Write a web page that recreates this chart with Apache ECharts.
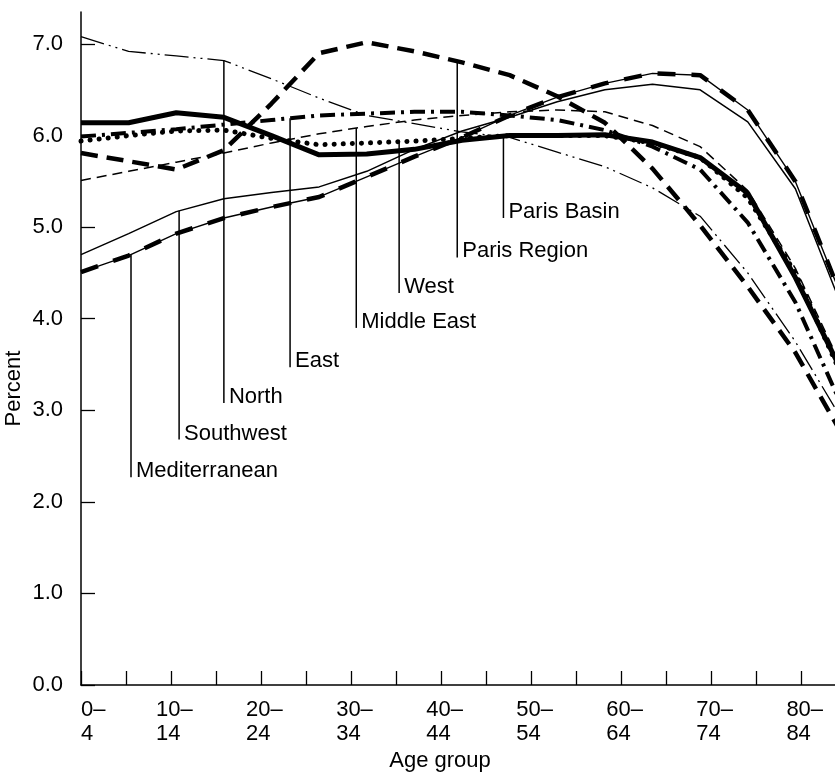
<!DOCTYPE html>
<html>
<head>
<meta charset="utf-8">
<script src="https://cdn.jsdelivr.net/npm/echarts@6/dist/echarts.min.js"></script>
<style>
  html, body { margin: 0; padding: 0; background: #fff; }
  #chart { width: 835px; height: 773px; }
</style>
</head>
<body>
<div id="chart"></div>
<script>
// age groups on the x axis (data is plotted by group index)
const ageGroups = [
  "0–4", "5–9", "10–14", "15–19", "20–24", "25–29", "30–34", "35–39", "40–44",
  "45–49", "50–54", "55–59", "60–64", "65–69", "70–74", "75–79", "80–84"
];
const percentTicks = [0, 1, 2, 3, 4, 5, 6, 7];

// percent of population in each age group, by region
const parisBasin    = [6.14, 6.14, 6.25, 6.20, 6.00, 5.79, 5.80, 5.85, 5.95, 6.00, 6.00, 6.01, 5.93, 5.76, 5.37, 4.45, 3.40];
const parisRegion   = [5.81, 5.72, 5.63, 5.84, 6.35, 6.90, 7.02, 6.92, 6.80, 6.66, 6.43, 6.14, 5.64, 5.02, 4.35, 3.63, 2.72];
const west          = [5.94, 6.00, 6.05, 6.06, 5.97, 5.90, 5.92, 5.94, 5.97, 6.00, 6.00, 6.00, 5.92, 5.76, 5.32, 4.50, 3.35];
const middleEast    = [5.51, 5.61, 5.71, 5.81, 5.92, 6.02, 6.10, 6.17, 6.22, 6.26, 6.28, 6.26, 6.11, 5.88, 5.40, 4.55, 3.45];
const east          = [5.99, 6.03, 6.07, 6.12, 6.17, 6.22, 6.24, 6.26, 6.26, 6.22, 6.17, 6.06, 5.88, 5.63, 5.05, 4.18, 3.02];
const north         = [7.08, 6.92, 6.87, 6.82, 6.62, 6.41, 6.22, 6.13, 6.04, 5.98, 5.82, 5.66, 5.43, 5.12, 4.50, 3.75, 2.88];
const southwest     = [4.70, 4.93, 5.17, 5.31, 5.38, 5.44, 5.61, 5.85, 6.05, 6.20, 6.37, 6.50, 6.56, 6.50, 6.15, 5.42, 4.10];
const mediterranean = [4.51, 4.69, 4.93, 5.10, 5.22, 5.33, 5.55, 5.77, 5.98, 6.22, 6.42, 6.57, 6.68, 6.66, 6.28, 5.50, 4.20];

const FONT = '"Liberation Sans", Arial, sans-serif';
const DATA_STEP = 47.6; // px between plotted age groups
const TICK_STEP = 45;   // px between axis ticks (the printed axis is a bit narrower)

const toPoints = arr => arr.map((v, i) => [i, v]);

function lineSeries(name, data, width, type, cap) {
  return {
    name: name,
    type: "line",
    xAxisIndex: 0,
    data: toPoints(data),
    symbol: "none",
    silent: true,
    animation: false,
    lineStyle: { color: "#000", width: width, type: type, cap: cap || "butt" }
  };
}

const series = [
  lineSeries("Paris Basin", parisBasin, 5, "solid"),
  lineSeries("Paris Region", parisRegion, 4.5, [17, 9]),
  lineSeries("West", west, 5, [0.1, 9], "round"),
  lineSeries("Middle East", middleEast, 1.5, [10, 6]),
  lineSeries("East", east, 4, [15, 6, 3, 6]),
  lineSeries("North", north, 1.3, [24, 5, 2, 5, 2, 5]),
  lineSeries("Southwest", southwest, 1.5, "solid"),
  lineSeries("Mediterranean", mediterranean, 1.4, "solid"),
  // heavy segments laid over the thin Mediterranean line
  lineSeries("Mediterranean heavy", mediterranean, 4.5, [18, 16])
];

// label text, series it points at, x position (group index) and foot of the pointer (percent)
const annotations = [
  { name: "Mediterranean", data: mediterranean, at: 1.05, foot: 2.27 },
  { name: "Southwest", data: southwest, at: 2.06, foot: 2.68 },
  { name: "North", data: north, at: 3.0, foot: 3.08 },
  { name: "East", data: east, at: 4.39, foot: 3.47 },
  { name: "Middle East", data: middleEast, at: 5.78, foot: 3.90 },
  { name: "West", data: west, at: 6.68, foot: 4.28 },
  { name: "Paris Region", data: parisRegion, at: 7.90, foot: 4.67 },
  { name: "Paris Basin", data: parisBasin, at: 8.87, foot: 5.10 }
];

const lastIndex = ageGroups.length - 1;
const tickValues = ageGroups.map((_, i) => i);

var chart = echarts.init(document.getElementById("chart"), null, { renderer: "canvas" });

var option = {
  backgroundColor: "#fff",
  animation: false,
  textStyle: { fontFamily: FONT, color: "#000" },
  grid: { left: 81, right: -8, top: 12, bottom: 88, containLabel: false, outerBoundsMode: "none" },
  xAxis: [
    {
      // plotting axis, one unit per age group
      type: "value",
      min: 0,
      max: lastIndex,
      position: "top",
      show: false
    },
    {
      // printed axis with its own tick spacing
      type: "value",
      min: 0,
      max: lastIndex * DATA_STEP / TICK_STEP,
      position: "bottom",
      name: "Age group",
      nameLocation: "middle",
      nameGap: 62,
      nameTextStyle: { fontSize: 22, color: "#000", fontFamily: FONT, padding: [0, 44, 0, 0] },
      axisLine: { show: true, onZero: false, lineStyle: { color: "#000", width: 1.5 } },
      axisTick: {
        show: true,
        inside: true,
        length: 14,
        customValues: tickValues,
        lineStyle: { color: "#000", width: 1.3 }
      },
      axisLabel: {
        show: true,
        customValues: tickValues.filter(i => i % 2 === 0),
        margin: 13,
        align: "center",
        formatter: function (v) {
          const parts = ageGroups[v].split("–");
          const key = v === 0 ? "f" : "a";
          return "{" + key + "|" + parts[0] + "–}\n{" + key + "|" + parts[1] + "}";
        },
        rich: {
          a: { width: 30, align: "left", fontSize: 22, lineHeight: 24, fontFamily: FONT, color: "#000" },
          f: { width: 30, align: "left", fontSize: 22, lineHeight: 24, fontFamily: FONT, color: "#000", padding: [0, 0, 0, 30] }
        }
      },
      splitLine: { show: false }
    }
  ],
  yAxis: {
    type: "value",
    min: 0,
    max: 7.35,
    name: "Percent",
    nameLocation: "middle",
    nameGap: 56,
    nameMoveOverlap: false,
    nameTextStyle: { fontSize: 22, color: "#000", fontFamily: FONT, padding: [0, 80, 0, 0] },
    axisLine: { show: true, lineStyle: { color: "#000", width: 1.5 } },
    axisTick: {
      show: true,
      inside: true,
      length: 14,
      customValues: percentTicks,
      lineStyle: { color: "#000", width: 1.3 }
    },
    axisLabel: {
      customValues: percentTicks,
      margin: 18,
      fontSize: 22,
      fontFamily: FONT,
      color: "#000",
      formatter: v => v.toFixed(1)
    },
    splitLine: { show: false }
  },
  series: series
};

chart.setOption(option);

// pointer lines and region names, placed through the chart's own scales
function valueAt(data, pos) {
  const i = Math.min(Math.floor(pos), data.length - 2);
  const f = pos - i;
  return data[i] + (data[i + 1] - data[i]) * f;
}

const finder = { xAxisIndex: 0, yAxisIndex: 0 };
const graphics = [];
annotations.forEach(a => {
  const top = chart.convertToPixel(finder, [a.at, valueAt(a.data, a.at)]);
  const foot = chart.convertToPixel(finder, [a.at, a.foot]);
  graphics.push({
    type: "line",
    silent: true,
    shape: { x1: top[0], y1: top[1], x2: foot[0], y2: foot[1] },
    style: { stroke: "#000", lineWidth: 1.5 }
  });
  graphics.push({
    type: "text",
    silent: true,
    x: foot[0] + 5,
    y: foot[1] + 5,
    style: {
      text: a.name,
      font: "22px " + FONT,
      fill: "#000",
      align: "left",
      textAlign: "left",
      verticalAlign: "bottom",
      textVerticalAlign: "bottom"
    }
  });
});

chart.setOption({ graphic: graphics });
</script>
</body>
</html>
